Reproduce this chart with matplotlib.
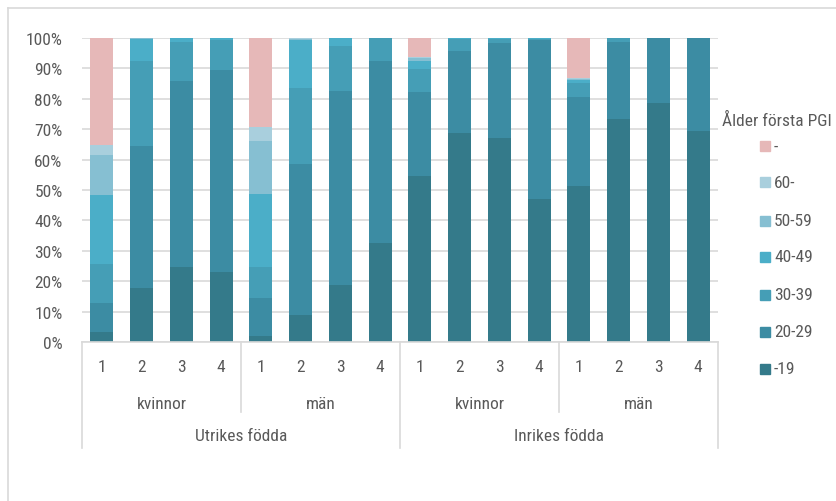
import matplotlib
matplotlib.use('Agg')
import matplotlib.pyplot as plt
from matplotlib import font_manager
from matplotlib.patches import Rectangle
from matplotlib.lines import Line2D
import numpy as np

names = set(f.name for f in font_manager.fontManager.ttflist)
prefs = ['Roboto Condensed', 'Open Sans Condensed', 'Liberation Sans Narrow', 'Roboto', 'Liberation Sans']
fam = next((p for p in prefs if p in names), 'DejaVu Sans')
plt.rcParams['font.family'] = [fam, 'DejaVu Sans']

# age at first PGI, share per group (%)
tick_labels = ['1', '2', '3', '4'] * 4
sex_labels = ['kvinnor', 'män', 'kvinnor', 'män']
origin_labels = ['Utrikes födda', 'Inrikes födda']

s_19 = [3.3, 17.8, 24.8, 23.1, 2.0, 8.9, 18.8, 32.7, 54.5, 68.6, 67.0, 46.9, 51.2, 73.3, 78.5, 69.3]
s_20 = [9.6, 46.6, 61.0, 66.3, 12.5, 49.8, 63.7, 59.7, 27.7, 27.1, 31.3, 52.4, 29.3, 25.4, 21.5, 30.7]
s_30 = [12.8, 28.0, 12.9, 9.9, 10.3, 24.8, 14.9, 7.6, 7.6, 4.0, 1.5, 0.5, 4.6, 1.3, 0, 0]
s_40 = [22.8, 7.3, 1.3, 0.7, 24.0, 15.8, 2.6, 0, 2.6, 0.3, 0.2, 0.2, 1.0, 0, 0, 0]
s_50 = [12.9, 0.3, 0, 0, 17.2, 0.5, 0, 0, 1.0, 0, 0, 0, 0.5, 0, 0, 0]
s_60 = [3.3, 0, 0, 0, 4.6, 0.2, 0, 0, 0.2, 0, 0, 0, 0.2, 0, 0, 0]
s_na = [35.3, 0, 0, 0, 29.4, 0, 0, 0, 6.4, 0, 0, 0, 13.2, 0, 0, 0]

series = [s_19, s_20, s_30, s_40, s_50, s_60, s_na]
series_names = ['-19', '20-29', '30-39', '40-49', '50-59', '60-', '-']
colors = ['#347A8A', '#3C8CA3', '#459EB6', '#4BAEC8', '#86BFD2', '#A9CFDD', '#E6B8B8']

W, H = 836, 502
fig = plt.figure(figsize=(W / 100, H / 100), dpi=100)
ax = fig.add_axes([82 / W, 1 - 343 / H, (718 - 82) / W, (343 - 39) / H])

grey = '#D9D9D9'
txt = '#595959'
fs = 12.5

x = np.arange(16)
bottom = np.zeros(16)
for vals, c in zip(series, colors):
    ax.bar(x, vals, 0.58, bottom=bottom, color=c, zorder=2)
    bottom += np.array(vals)

ax.set_xlim(-0.5, 15.5)
ax.set_ylim(0, 100)
ax.set_yticks(np.arange(0, 101, 10))
ax.set_yticklabels([f'{v}%' for v in range(0, 101, 10)])
ax.yaxis.grid(True, color=grey, lw=1.2, zorder=0)
ax.tick_params(axis='y', length=0, pad=14, labelsize=fs, labelcolor=txt)
ax.set_xticks([])
for s in ['left', 'right', 'top']:
    ax.spines[s].set_visible(False)
ax.spines['bottom'].set_color(grey)
ax.spines['bottom'].set_linewidth(1.2)

# multi-level category axis
def fy(py):
    return 1 - py / H

def fx(xd):
    return (82 + (xd + 0.5) * (718 - 82) / 16) / W

for i, lab in enumerate(tick_labels):
    fig.text(fx(i), fy(368), lab, ha='center', va='center', fontsize=fs, color=txt)
for j, lab in enumerate(sex_labels):
    fig.text(fx(4 * j + 1.5), fy(405), lab, ha='center', va='center', fontsize=fs, color=txt)
for j, lab in enumerate(origin_labels):
    fig.text(fx(8 * j + 3.5), fy(437), lab, ha='center', va='center', fontsize=fs, color=txt)

for b in [3.5, 11.5]:
    fig.add_artist(Line2D([fx(b), fx(b)], [fy(343), fy(413)], color=grey, lw=1.2))
for b in [-0.5, 7.5, 15.5]:
    fig.add_artist(Line2D([fx(b), fx(b)], [fy(343), fy(449)], color=grey, lw=1.2))

# legend
fig.text(722 / W, fy(121), 'Ålder första PGI', ha='left', va='center', fontsize=fs, color=txt)
leg_y = [147, 183, 222, 258, 296, 333, 370]
for k, yy in enumerate(leg_y):
    idx = len(series) - 1 - k
    fig.add_artist(Rectangle((760 / W, fy(yy + 5)), 10 / W, 10 / H, color=colors[idx],
                             transform=fig.transFigure))
    fig.text(774 / W, fy(yy), series_names[idx], ha='left', va='center', fontsize=fs, color=txt)

# chart area border
fig.add_artist(Line2D([8 / W, 1], [fy(9), fy(9)], color=grey, lw=1.2))
fig.add_artist(Line2D([8 / W, 8 / W], [0, fy(9)], color=grey, lw=1.2))

fig.savefig('out.png', dpi=100)
